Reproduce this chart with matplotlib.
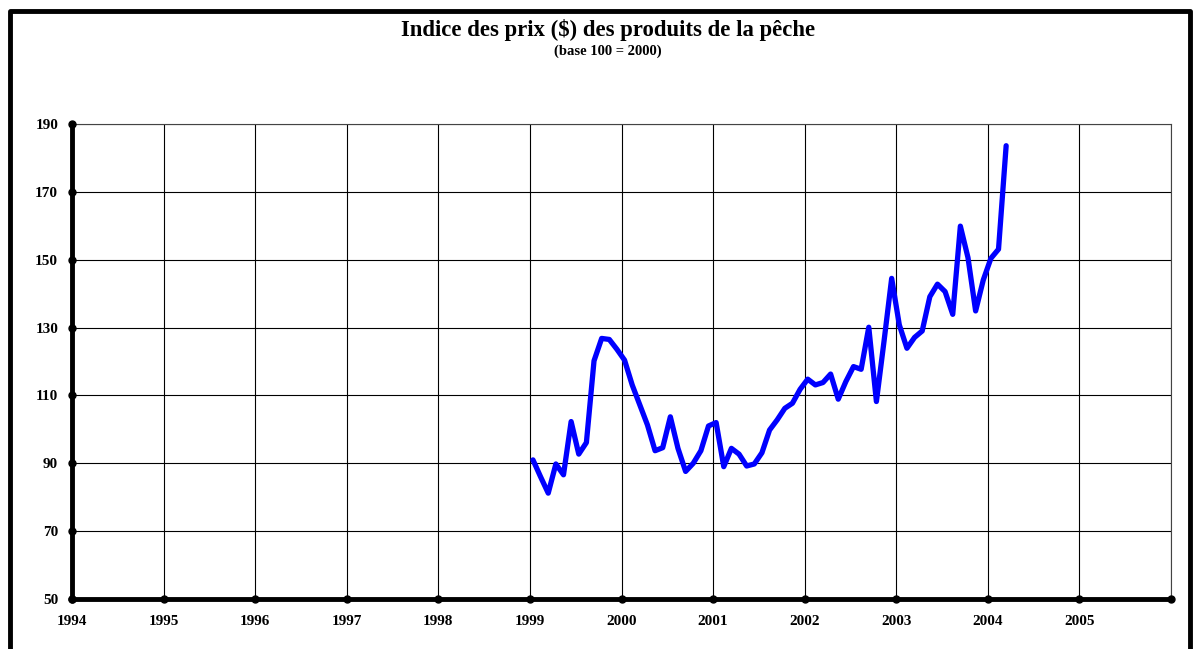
import numpy as np
import matplotlib
matplotlib.use("Agg")
import matplotlib.pyplot as plt
import matplotlib.patches as patches

# monthly index, Jan 1999 - Mar 2004 (base 100 = 2000)
start_year = 1999.0
values = [
    91.0, 86.0, 81.2, 89.8, 86.6, 102.3, 92.7, 96.1, 120.2, 126.8, 126.5, 123.6,   # 1999
    120.4, 113.1, 107.2, 101.3, 93.7, 94.6, 103.7, 94.4, 87.6, 90.0, 93.7, 101.0,  # 2000
    102.0, 89.0, 94.4, 92.7, 89.2, 89.8, 93.1, 99.8, 102.8, 106.2, 107.7, 111.8,   # 2001
    114.8, 113.1, 113.8, 116.3, 108.9, 114.1, 118.5, 117.7, 130.1, 108.2, 126.0, 144.5,  # 2002
    130.8, 123.9, 127.1, 129.0, 139.1, 142.8, 140.6, 133.9, 159.9, 150.6, 134.9, 144.0,  # 2003
    150.4, 153.1, 183.6,                                                           # 2004
]
years = list(range(1994, 2007))
year_labels = [str(y) for y in range(1994, 2006)]
y_ticks = list(range(50, 191, 20))

# months plotted near mid-month
x = start_year + (np.arange(len(values)) + 0.4) / 12.0

plt.rcParams['font.family'] = ['Liberation Serif', 'DejaVu Serif']
plt.rcParams['font.weight'] = 'bold'

fig = plt.figure(figsize=(11.98, 6.49), dpi=100)
ax = fig.add_axes([72 / 1198, 1 - 599 / 649, (1171 - 72) / 1198, (599 - 124) / 649])

ax.plot(x, values, color='#0000ff', linewidth=3.8, solid_joinstyle='round', solid_capstyle='round', zorder=3)

ax.set_xlim(1994, 2006)
ax.set_ylim(50, 190)
ax.set_xticks(years)
ax.set_xticklabels(year_labels + [''])
ax.set_yticks(y_ticks)
ax.tick_params(axis='both', length=0, labelsize=11)
ax.tick_params(axis='x', pad=11.5)
ax.tick_params(axis='y', pad=10)
for lab in ax.get_xticklabels() + ax.get_yticklabels():
    lab.set_fontweight('bold')

ax.grid(True, color='black', linewidth=0.8)
ax.set_axisbelow(True)
for side in ['top', 'right']:
    ax.spines[side].set_linewidth(0.8)
    ax.spines[side].set_color('#444444')
for side in ['left', 'bottom']:
    ax.spines[side].set_linewidth(3.5)
    ax.spines[side].set_capstyle('round')
    ax.spines[side].set_zorder(4)

# dot markers on the axes at each tick
ax.plot(years, [50] * len(years), 'o', color='black', markersize=5, clip_on=False, zorder=5)
ax.plot([1994] * len(y_ticks), y_ticks, 'o', color='black', markersize=5, clip_on=False, zorder=5)

fig.text(608 / 1198, 1 - 30 / 649, "Indice des prix ($) des produits de la pêche",
         ha='center', va='center', fontsize=16.4, fontweight='bold')
fig.text(608 / 1198, 1 - 51 / 649, "(base 100 = 2000)",
         ha='center', va='center', fontsize=10.5, fontweight='bold')

# outer frame
frame = patches.Rectangle((10 / 1198, -0.05), (1190 - 10) / 1198, 1.05 - 10.5 / 649,
                          transform=fig.transFigure, fill=False, edgecolor='black',
                          linewidth=3.5, joinstyle='round')
fig.patches.append(frame)

plt.savefig("out.png", dpi=100)
plt.close()
